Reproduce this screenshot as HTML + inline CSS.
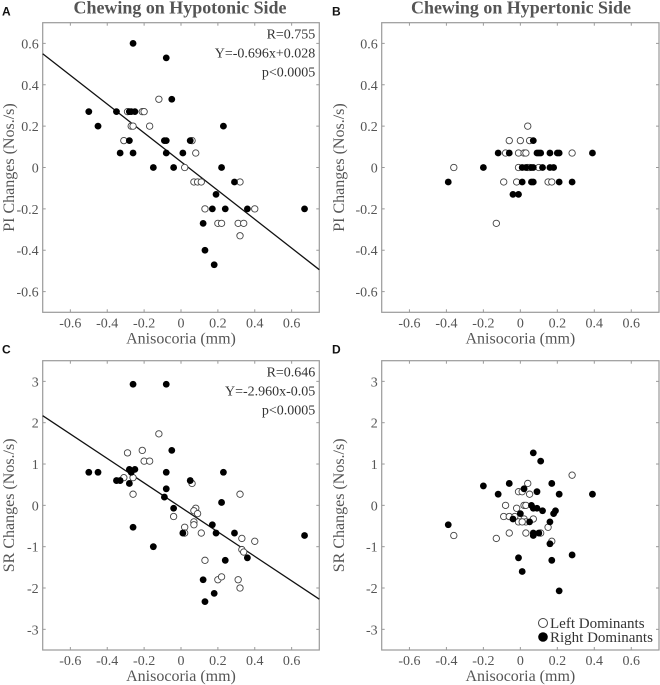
<!DOCTYPE html>
<html><head><meta charset="utf-8">
<style>
html,body{margin:0;padding:0;background:#fff;}
svg{display:block;font-family:"Liberation Serif",serif;}
</style></head>
<body>
<svg id="fig" width="660" height="685" viewBox="0 0 660 685" xmlns="http://www.w3.org/2000/svg"></svg>
<script>
// Panel A data (PI, hypotonic)
const aFilledX=[-0.26,-0.08,-0.05,-0.5,-0.35,-0.28,-0.27,-0.25,-0.45,-0.28,-0.09,-0.08,0.05,-0.33,-0.26,-0.08,0.01,-0.15,-0.04,0.22,0.23,0.29,0.19,0.17,0.24,0.36,0.67,0.12,0.13,0.18];
const aFilledY=[0.6,0.53,0.33,0.27,0.27,0.27,0.27,0.27,0.2,0.13,0.13,0.13,0.13,0.07,0.07,0.07,0.07,0,0,0,0.2,-0.07,-0.13,-0.2,-0.2,-0.2,-0.2,-0.27,-0.4,-0.47];
const aOpenX=[-0.12,-0.29,-0.21,-0.2,-0.27,-0.26,-0.17,-0.31,0.06,0.08,0.02,0.07,0.09,0.11,0.32,0.13,0.4,0.2,0.22,0.31,0.34,0.32];
const aOpenY=[0.33,0.27,0.27,0.27,0.2,0.2,0.2,0.13,0.13,0.07,0,-0.07,-0.07,-0.07,-0.07,-0.2,-0.2,-0.27,-0.27,-0.27,-0.27,-0.33];
// Panel B data (PI, hypertonic)
const bFilledX=[-0.39,-0.2,-0.12,-0.06,0.07,0.09,0.1,0.11,0.16,0.2,0.21,0.39,0.01,0.03,0.06,0.07,0.12,0.16,0.18,0.01,0.06,0.07,0.21,0.28,-0.04,-0.01];
const bFilledY=[-0.07,0,0.07,0.07,0.13,0.07,0.07,0.07,0.07,0.07,0.07,0.07,0,0,0,0,0,0,0,-0.07,-0.07,-0.07,-0.07,-0.07,-0.13,-0.13];
const bOpenX=[-0.36,0.04,-0.06,0,0.05,-0.08,-0.01,0.02,0.03,0.28,-0.01,0.04,0.1,-0.09,-0.02,0.15,0.17,-0.13,0.05];
const bOpenY=[0,0.2,0.13,0.13,0.13,0.07,0.07,0.07,0.07,0.07,0,0,0,-0.07,-0.07,-0.07,-0.07,-0.27,0];
// Panel C data (SR, hypotonic)
const cFilledX=[-0.26,-0.08,-0.05,-0.5,-0.45,-0.28,-0.25,-0.27,-0.08,0.23,-0.35,-0.33,0.05,-0.28,-0.08,-0.09,0.22,-0.04,-0.26,0.17,0.01,0.19,0.29,0.67,-0.15,0.24,0.36,0.12,0.18,0.13];
const cFilledY=[2.93,2.93,1.33,0.8,0.8,0.87,0.87,0.8,0.8,0.8,0.6,0.6,0.6,0.53,0.4,0.2,0.07,-0.07,-0.53,-0.47,-0.67,-0.67,-0.67,-0.73,-1,-1.33,-1.27,-1.8,-2.13,-2.33];
const cOpenX=[-0.12,-0.21,-0.29,-0.2,-0.17,-0.31,-0.26,-0.26,0.06,0.32,0.08,0.07,0.09,-0.04,0.07,0.07,0.02,0.02,0.11,0.33,0.4,0.33,0.34,0.13,0.2,0.22,0.31,0.32];
const cOpenY=[1.73,1.33,1.27,1.07,1.07,0.67,0.67,0.27,0.53,0.27,-0.07,-0.13,-0.2,-0.27,-0.4,-0.47,-0.53,-0.67,-0.67,-0.8,-0.87,-1.07,-1.13,-1.33,-1.8,-1.73,-1.8,-2];
// Panel D data (SR, hypertonic)
const dFilledX=[0.07,0.11,-0.06,0.17,-0.2,0.02,0.09,-0.12,0.21,0.39,0.06,0.07,0.09,0.12,0.19,0.18,0,-0.04,0.05,0.16,-0.39,0.07,0.1,0.07,0.16,-0.01,0.28,0.17,0.01,0.21];
const dFilledY=[1.27,1.07,0.53,0.53,0.47,0.4,0.33,0.27,0.27,0.27,0,-0.07,-0.07,-0.13,-0.13,-0.2,-0.2,-0.33,-0.4,-0.4,-0.47,-0.67,-0.67,-0.73,-0.93,-1.27,-1.2,-1.33,-1.6,-2.07];
const dOpenX=[0.28,0.04,-0.01,0.01,0.05,-0.08,0.02,0.03,-0.02,-0.09,-0.06,-0.03,0.02,0.07,-0.01,0.03,0.15,-0.36,-0.06,0.03,0.11,0.17,-0.13,0.01];
const dOpenY=[0.73,0.53,0.33,0.33,0.27,0,0,0,-0.07,-0.27,-0.27,-0.27,-0.33,-0.33,-0.4,-0.4,-0.53,-0.73,-0.67,-0.67,-0.67,-0.87,-0.8,-0.4];
// tick labels
const xTicks=[-0.6,-0.4,-0.2,0,0.2,0.4,0.6];
const xTickLabels=["-0.6","-0.4","-0.2","0","0.2","0.4","0.6"];
const piTicks=[-0.6,-0.4,-0.2,0,0.2,0.4,0.6];
const piTickLabels=["-0.6","-0.4","-0.2","0","0.2","0.4","0.6"];
const srTicks=[-3,-2,-1,0,1,2,3];
const srTickLabels=["-3","-2","-1","0","1","2","3"];
const fitA=[-0.696,0.028];
const fitC=[-2.960,-0.05];

const NS="http://www.w3.org/2000/svg";
const svg=document.getElementById('fig');
function mk(tag,attrs,parent){const e=document.createElementNS(NS,tag);for(const k in attrs)e.setAttribute(k,attrs[k]);(parent||svg).appendChild(e);return e;}

function panel(o){
  const g=mk('g',{});
  
  
  const x=v=>o.x0+(v-(-0.75))/1.5*(o.x1-o.x0);
  const y=v=>o.y1-(v-o.ymin)/(o.ymax-o.ymin)*(o.y1-o.y0);
  const box=mk('rect',{x:o.x0,y:o.y0,width:o.x1-o.x0,height:o.y1-o.y0,fill:'none',stroke:'#9a9a9a','stroke-width':1.2},g);
  
  
  xTicks.forEach((t,i)=>{
    const px=x(t);
    mk('line',{x1:px,x2:px,y1:o.y1,y2:o.y1-3,stroke:'#9a9a9a'},g);
    mk('line',{x1:px,x2:px,y1:o.y0,y2:o.y0+3,stroke:'#9a9a9a'},g);
    const tl=mk('text',{x:px,y:o.y1+15,'text-anchor':'middle','font-size':14,fill:'#555'},g);
    tl.textContent=xTickLabels[i];
    
    
  });
  o.yt.forEach((t,i)=>{
    const py=y(t);
    mk('line',{x1:o.x0,x2:o.x0+3,y1:py,y2:py,stroke:'#9a9a9a'},g);
    mk('line',{x1:o.x1,x2:o.x1-3,y1:py,y2:py,stroke:'#9a9a9a'},g);
    const tl=mk('text',{x:o.x0-4,y:py+5,'text-anchor':'end','font-size':14,fill:'#555'},g);
    tl.textContent=o.ytl[i];
    
    
  });
  const xt=mk('text',{x:(o.x0+o.x1)/2,y:o.y1+31,'text-anchor':'middle','font-size':16,fill:'#555'},g);
  xt.textContent='Anisocoria (mm)';
  
  
  const yc=(o.y0+o.y1)/2;
  const yt=mk('text',{x:o.ytx,y:yc,'text-anchor':'middle','font-size':16,fill:'#555',transform:`rotate(-90 ${o.ytx} ${yc})`},g);
  yt.textContent=o.ylabel;
  
  
  const lt=mk('text',{x:o.lx,y:o.y0-7,'font-size':12,'font-weight':'bold','font-family':'Liberation Sans, sans-serif',fill:'#111'},g);
  lt.textContent=o.letter;
  
  
  if(o.title){
    const tt=mk('text',{x:o.tcx,y:o.y0-9,'text-anchor':'middle','font-size':18,'font-weight':'bold',fill:'#555',textLength:o.tw,lengthAdjust:'spacingAndGlyphs'},g);
    tt.textContent=o.title;
    
    
  }
  if(o.fit){
    const fl=mk('line',{x1:x(-0.75),y1:y(o.fit[0]*-0.75+o.fit[1]),x2:x(0.75),y2:y(o.fit[0]*0.75+o.fit[1]),stroke:'#111','stroke-width':1.3},g);
    
    
    o.stats.forEach((s,i)=>{
      const st=mk('text',{x:o.x1-4,y:o.y0+16+i*19,'text-anchor':'end','font-size':14,fill:'#333'},g);
      st.textContent=s;
      
      
    });
  }
  o.ox.forEach((v,i)=>{
    const c=mk('circle',{cx:x(v),cy:y(o.oy[i]),r:3.2,fill:'#fff',stroke:'#444','stroke-width':0.9},g);
    
    
  });
  o.fx.forEach((v,i)=>{
    const c=mk('circle',{cx:x(v),cy:y(o.fy[i]),r:3.4,fill:'#000'},g);
    
    
  });
}

panel({name:'panel-a',x0:42.7,x1:319.3,y0:22.7,y1:312.3,ymin:-0.7,ymax:0.7,yt:piTicks,ytl:piTickLabels,ytx:14,ylabel:'PI Changes (Nos./s)',letter:'A',lx:2,title:'Chewing on Hypotonic Side',tcx:180,tw:213,fit:fitA,stats:['R=0.755','Y=-0.696x+0.028','p<0.0005'],fx:aFilledX,fy:aFilledY,ox:aOpenX,oy:aOpenY});
panel({name:'panel-b',x0:381.7,x1:659,y0:22.7,y1:312.3,ymin:-0.7,ymax:0.7,yt:piTicks,ytl:piTickLabels,ytx:344,ylabel:'PI Changes (Nos./s)',letter:'B',lx:332,title:'Chewing on Hypertonic Side',tcx:521,tw:220,fx:bFilledX,fy:bFilledY,ox:bOpenX,oy:bOpenY});
panel({name:'panel-c',x0:42.7,x1:319.3,y0:360.7,y1:650,ymin:-3.5,ymax:3.5,yt:srTicks,ytl:srTickLabels,ytx:14,ylabel:'SR Changes (Nos./s)',letter:'C',lx:2,fit:fitC,stats:['R=0.646','Y=-2.960x-0.05','p<0.0005'],fx:cFilledX,fy:cFilledY,ox:cOpenX,oy:cOpenY});
panel({name:'panel-d',x0:381.7,x1:659,y0:360.7,y1:650,ymin:-3.5,ymax:3.5,yt:srTicks,ytl:srTickLabels,ytx:344,ylabel:'SR Changes (Nos./s)',letter:'D',lx:332,fx:dFilledX,fy:dFilledY,ox:dOpenX,oy:dOpenY});

// legend
const lg=mk('g',{});


const lc1=mk('circle',{cx:543,cy:623,r:4.5,fill:'#fff',stroke:'#444','stroke-width':1},lg);


const lt1=mk('text',{x:550,y:628,'font-size':15,fill:'#333'},lg);
lt1.textContent='Left Dominants';


const lc2=mk('circle',{cx:543,cy:637,r:4.8,fill:'#000'},lg);


const lt2=mk('text',{x:550,y:642,'font-size':15,fill:'#333'},lg);
lt2.textContent='Right Dominants';


</script>
</body></html>
